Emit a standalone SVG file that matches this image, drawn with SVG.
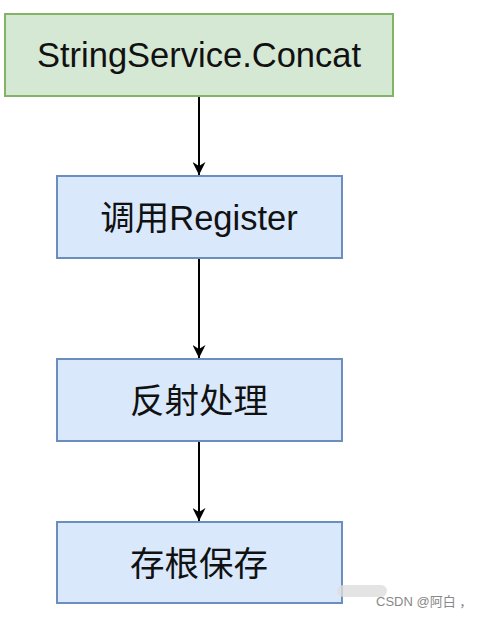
<svg xmlns="http://www.w3.org/2000/svg" width="485" height="618" viewBox="0 0 485 618">
<style>
.lbl{font-family:"Liberation Sans","Noto Sans CJK SC",sans-serif;font-size:34.5px;fill:#111;text-anchor:middle}
.green{fill:#d5e8d4;stroke:#82b366;stroke-width:2}
.blue{fill:#dae8fc;stroke:#6c8ebf;stroke-width:2}
.edge{stroke:#000;stroke-width:2;fill:none}
</style>
<defs>
<marker id="arr" viewBox="0 0 10 10" refX="10" refY="5" markerWidth="6.5" markerHeight="6.5" orient="auto" markerUnits="strokeWidth">
<path d="M0,0 L10,5 L0,10 L3,5 Z" fill="#000"/>
</marker>
</defs>
<rect width="485" height="618" fill="#fff"/>
<g id="connectors">
<path class="edge" d="M199,96 L199,175" marker-end="url(#arr)"/>
<path class="edge" d="M199,258 L199,358" marker-end="url(#arr)"/>
<path class="edge" d="M199,441 L199,521" marker-end="url(#arr)"/>
</g>
<g id="n1">
<rect class="green" x="5" y="14" width="388" height="82"/>
<text class="lbl" x="199" y="67">StringService.Concat</text>
</g>
<g id="n2">
<rect class="blue" x="57" y="176" width="285" height="82"/>
<text class="lbl" x="199" y="230">调用Register</text>
</g>
<g id="n3">
<rect class="blue" x="57" y="359" width="285" height="82"/>
<text class="lbl" x="199" y="413">反射处理</text>
</g>
<g id="n4">
<rect class="blue" x="57" y="522" width="285" height="81"/>
<text class="lbl" x="199" y="576">存根保存</text>
</g>
<g id="watermark">
<rect x="337" y="585" width="50" height="12" rx="6" fill="#ddd" opacity="0.8"/>
<text x="376" y="606" font-family="Liberation Sans,'Noto Sans CJK SC',sans-serif" font-size="13" fill="#888">CSDN @阿白 ，</text>
</g>
</svg>
